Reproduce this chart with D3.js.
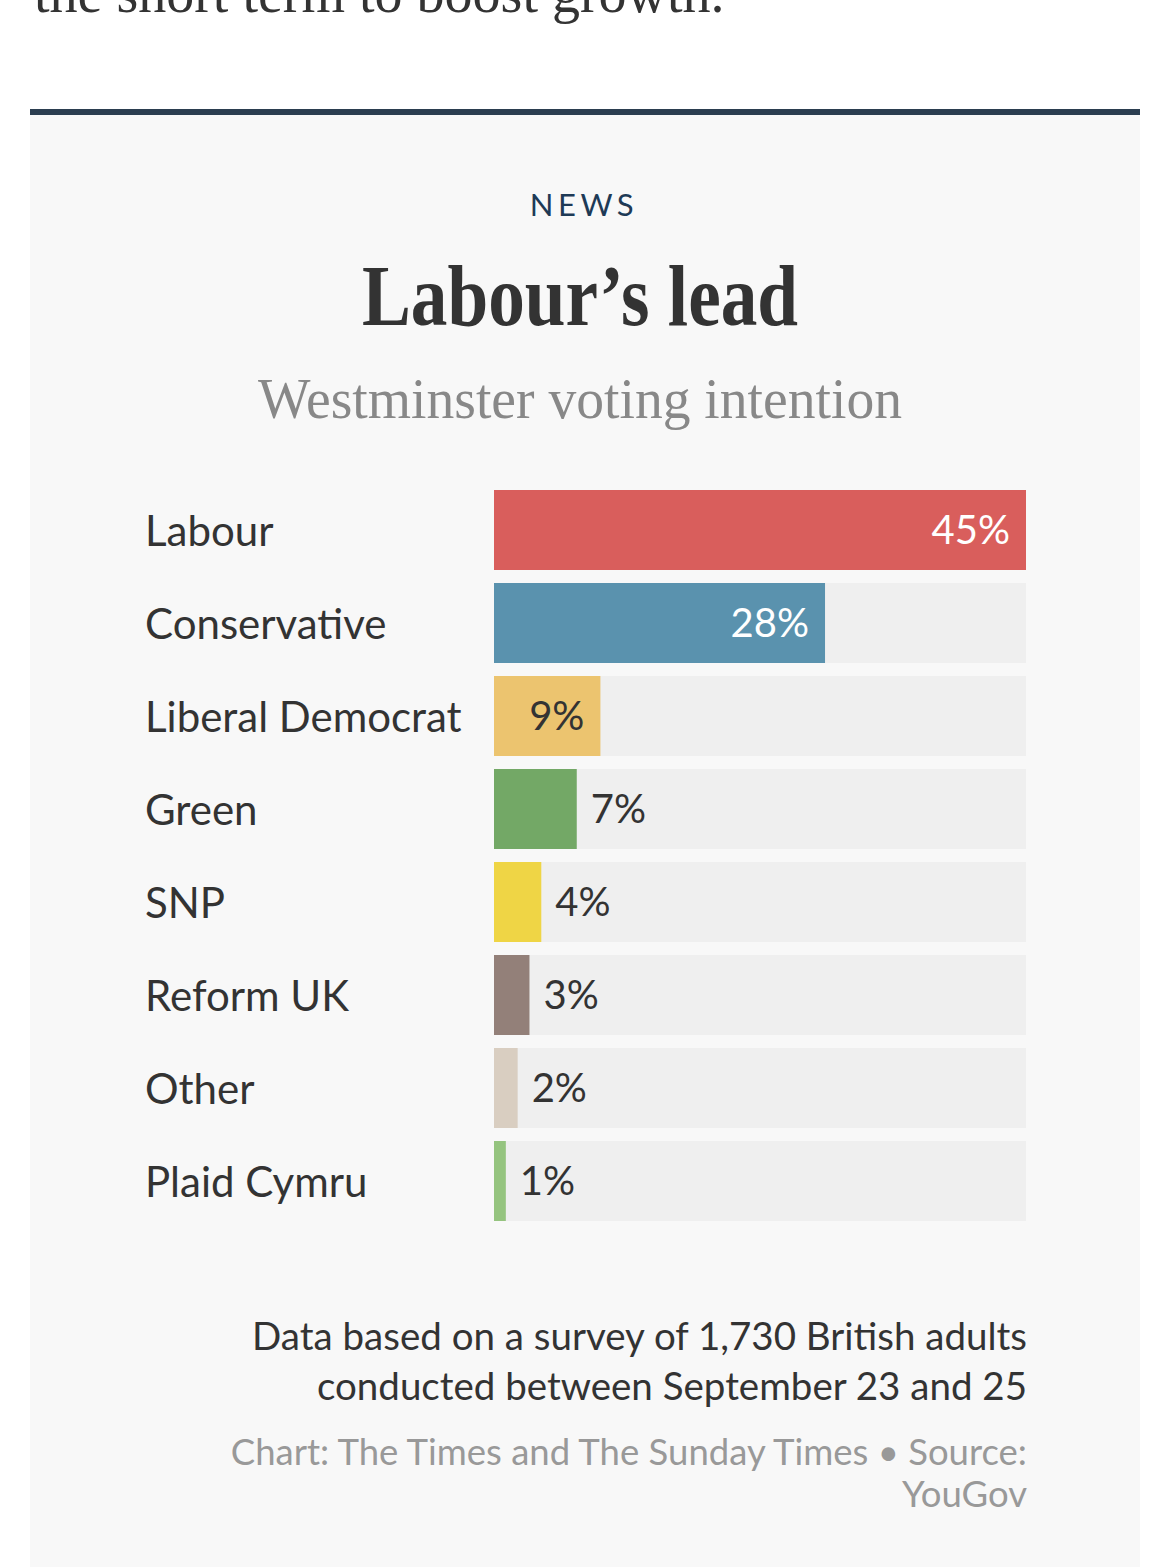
<!DOCTYPE html>
<html>
<head>
<meta charset="utf-8">
<script src="https://cdn.jsdelivr.net/npm/d3@7"></script>
<style>
  html, body { margin: 0; padding: 0; background: #ffffff; }
  svg { display: block; }
</style>
</head>
<body>
<svg id="chart" width="1170" height="1567"></svg>
<script>
const parties = ["Labour", "Conservative", "Liberal Democrat", "Green", "SNP", "Reform UK", "Other", "Plaid Cymru"];
const shares = [45, 28, 9, 7, 4, 3, 2, 1];
const partyColours = ["#d95e5c", "#5a92ae", "#ecc46f", "#73a866", "#efd545", "#938079", "#d9cec1", "#95c47f"];
const insideTextColours = ["#ffffff", "#ffffff", "#333333", "#333333", "#333333", "#333333", "#333333", "#333333"];

const svg = d3.select("#chart");
const W = 1170, H = 1567;

// lead-in article text (cut off at top, as in the page)
svg.append("text").attr("x", 34).attr("y", 12)
  .attr("font-family", "'Liberation Serif', serif").attr("font-size", 56)
  .attr("fill", "#333").text("the short term to boost growth.");

// panel
svg.append("rect").attr("x", 30).attr("y", 115).attr("width", 1110).attr("height", H - 115).attr("fill", "#f8f8f8");
svg.append("rect").attr("x", 30).attr("y", 109).attr("width", 1110).attr("height", 6).attr("fill", "#2b3e50");

// header
svg.append("text").attr("x", 584).attr("y", 216).attr("text-anchor", "middle")
  .attr("font-family", "Lato, sans-serif").attr("font-size", 31).attr("letter-spacing", 4.5)
  .attr("fill", "#1e3a56").text("NEWS");
svg.append("text").attr("x", 362).attr("y", 325)
  .attr("font-family", "'Liberation Serif', serif").attr("font-weight", "bold").attr("font-size", 86)
  .attr("textLength", 436).attr("lengthAdjust", "spacingAndGlyphs")
  .attr("fill", "#333").text("Labour’s lead");
svg.append("text").attr("x", 258).attr("y", 418)
  .attr("font-family", "'Liberation Serif', serif").attr("font-size", 57)
  .attr("textLength", 644).attr("lengthAdjust", "spacingAndGlyphs")
  .attr("fill", "#888").text("Westminster voting intention");

// scales
const x = d3.scaleLinear().domain([0, d3.max(shares)]).range([494, 1026]);
const y = d3.scaleBand().domain(parties).range([490, 1221]).paddingInner(13 / 93).paddingOuter(0);

const rows = svg.append("g").selectAll("g").data(parties).join("g");

rows.append("rect").attr("x", x(0)).attr("y", d => y(d))
  .attr("width", x.range()[1] - x(0)).attr("height", y.bandwidth()).attr("fill", "#efefef");
rows.append("rect").attr("x", x(0)).attr("y", d => y(d))
  .attr("width", (d, i) => x(shares[i]) - x(0)).attr("height", y.bandwidth())
  .attr("fill", (d, i) => partyColours[i]);

rows.append("text").attr("x", 145).attr("y", d => y(d) + y.bandwidth() / 2 + 16)
  .attr("font-family", "Lato, sans-serif").attr("font-size", 42).attr("fill", "#333")
  .text(d => d);

const pad = 16;
rows.append("text")
  .attr("y", d => y(d) + y.bandwidth() / 2 + 14)
  .attr("font-family", "Lato, sans-serif").attr("font-size", 40)
  .text((d, i) => shares[i] + "%")
  .each(function (d, i) {
    const t = d3.select(this);
    const w = this.getComputedTextLength();
    const barW = x(shares[i]) - x(0);
    if (barW > w + pad * 2) {
      t.attr("x", x(shares[i]) - pad).attr("text-anchor", "end").attr("fill", insideTextColours[i]);
    } else {
      t.attr("x", x(shares[i]) + 14).attr("text-anchor", "start").attr("fill", "#333");
    }
  });

// footnotes
const foot = [
  ["Data based on a survey of 1,730 British adults", 1350, "#333", 38.5],
  ["conducted between September 23 and 25", 1400, "#333", 38.5],
  ["Chart: The Times and The Sunday Times • Source:", 1465, "#999", 36.5],
  ["YouGov", 1507, "#999", 36.5]
];
svg.append("g").selectAll("text").data(foot).join("text")
  .attr("x", 1027).attr("y", d => d[1]).attr("text-anchor", "end")
  .attr("font-family", "Lato, sans-serif").attr("font-size", d => d[3])
  .attr("fill", d => d[2]).text(d => d[0]);
</script>
</body>
</html>
